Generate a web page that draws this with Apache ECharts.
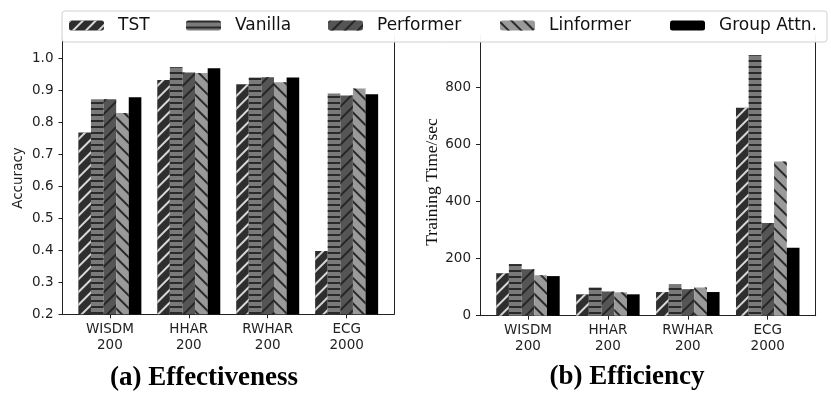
<!DOCTYPE html>
<html><head><meta charset="utf-8">
<script src="https://cdn.jsdelivr.net/npm/echarts@6/dist/echarts.min.js"></script>
<style>html,body{margin:0;padding:0;background:#fff}#c{width:831px;height:394px}</style>
</head><body><div id="c"></div>
<script>
const datasets = ['WISDM', 'HHAR', 'RWHAR', 'ECG'];
const seqLens = ['200', '200', '200', '2000'];
const methods = ['TST', 'Vanilla', 'Performer', 'Linformer', 'Group Attn.'];
const accTST       = [0.768, 0.932, 0.919, 0.398];
const accVanilla   = [0.872, 0.972, 0.940, 0.890];
const accPerformer = [0.872, 0.956, 0.941, 0.884];
const accLinformer = [0.829, 0.954, 0.925, 0.906];
const accGroup     = [0.878, 0.969, 0.940, 0.888];
const timeTST       = [149, 75, 83, 730];
const timeVanilla   = [181, 99, 111, 914];
const timePerformer = [163, 85, 93, 325];
const timeLinformer = [142, 82, 99, 541];
const timeGroup     = [139, 75, 83, 238];
const titleA = '(a) Effectiveness';
const titleB = '(b) Efficiency';
const yNameA = 'Accuracy';
const yNameB = 'Training Time/sec';

const accSeries = [accTST, accVanilla, accPerformer, accLinformer, accGroup];
const timeSeries = [timeTST, timeVanilla, timePerformer, timeLinformer, timeGroup];
const categories = datasets.map((d, i) => d + '\n' + seqLens[i]);

const fills = ['#2e2e2e', '#7a7a7a', '#555555', '#9a9a9a', '#000000'];
const decals = [
  {symbol: 'rect', symbolSize: 1, color: '#d8d8d8', dashArrayX: [1, 0], dashArrayY: [1.2, 6.8], rotation: -Math.PI / 4},
  {symbol: 'rect', symbolSize: 1, color: '#2a2a2a', dashArrayX: [1, 0], dashArrayY: [2, 3.5], rotation: 0},
  {symbol: 'rect', symbolSize: 1, color: '#262626', dashArrayX: [1, 0], dashArrayY: [1.5, 6.3], rotation: -Math.PI / 4},
  {symbol: 'rect', symbolSize: 1, color: '#2a2a2a', dashArrayX: [1, 0], dashArrayY: [1.5, 6.3], rotation: Math.PI / 4},
  null
];

const sans = 'DejaVu Sans';
const serif = 'Liberation Serif';
const ink = '#222';

function frameX(gi) {
  return {type: 'value', gridIndex: gi, min: 0, max: 1, axisLine: {show: true, onZero: false, lineStyle: {color: ink, width: 1}},
    axisTick: {show: false}, axisLabel: {show: false}, splitLine: {show: false}};
}
function barX(gi) {
  return {type: 'category', gridIndex: gi, data: categories, boundaryGap: true,
    axisLine: {show: false}, axisTick: {show: true, alignWithLabel: true, length: 4, lineStyle: {color: ink}},
    axisLabel: {fontFamily: sans, fontSize: 13.5, lineHeight: 16, color: ink, margin: 7}, splitLine: {show: false}};
}
function yLeft(gi, min, max, interval, fmt) {
  return {type: 'value', gridIndex: gi, position: 'left', min: min, max: max, interval: interval,
    axisLine: {show: true, lineStyle: {color: ink, width: 1}}, axisTick: {show: true, length: 4, lineStyle: {color: ink}},
    axisLabel: {fontFamily: sans, fontSize: 13.5, color: ink, margin: 9, showMaxLabel: false, formatter: fmt},
    splitLine: {show: false}};
}
function yRight(gi, min, max) {
  return {type: 'value', gridIndex: gi, position: 'right', min: min, max: max,
    axisLine: {show: true, lineStyle: {color: ink, width: 1}}, axisTick: {show: false}, axisLabel: {show: false}, splitLine: {show: false}};
}
function yHidden(gi, min, max) {
  return {type: 'value', gridIndex: gi, min: min, max: max, show: false, splitLine: {show: false}};
}

const accMin = 0.2, accMax = 1.0728;
const timeMin = 0, timeMax = 984.9;

const series = [];
methods.forEach((m, k) => {
  const style = {color: fills[k]};
  if (decals[k]) style.decal = decals[k];
  series.push({name: m, type: 'bar', xAxisIndex: 1, yAxisIndex: 2, data: accSeries[k], barWidth: 12.6, barGap: '0%', itemStyle: style, clip: true});
});
methods.forEach((m, k) => {
  const style = {color: fills[k]};
  if (decals[k]) style.decal = decals[k];
  series.push({name: m, type: 'bar', xAxisIndex: 3, yAxisIndex: 5, data: timeSeries[k], barWidth: 12.7, barGap: '0%', itemStyle: style, clip: true});
});

const legendLefts = [69, 186, 328, 500, 670];
const legends = methods.map((m, k) => ({
  data: [m], left: legendLefts[k], top: 17, padding: 0, itemWidth: 35, itemHeight: 10,
  textStyle: {fontFamily: sans, fontSize: 17, color: '#111', padding: [0, 0, 0, 9]}, selectedMode: false, z: 10
}));

const option = {
  animation: false,
  backgroundColor: '#fff',
  grid: [
    {left: 62.5, top: 35, width: 331.5, height: 279.3},
    {left: 70.4, top: 35, width: 315.7, height: 279.3},
    {left: 480, top: 35, width: 335.7, height: 280.7},
    {left: 488, top: 35, width: 319.7, height: 280.7}
  ],
  xAxis: [frameX(0), barX(1), frameX(2), barX(3)],
  yAxis: [
    yLeft(0, accMin, accMax, 0.1, v => v.toFixed(1)), yRight(0, accMin, accMax), yHidden(1, accMin, accMax),
    yLeft(2, timeMin, timeMax, 200, v => String(Math.round(v))), yRight(2, timeMin, timeMax), yHidden(3, timeMin, timeMax)
  ],
  legend: legends,
  series: series,
  graphic: [
    {type: 'rect', z: 8, shape: {x: 62, y: 11, width: 765, height: 31, r: 3},
      style: {fill: 'rgba(255,255,255,0.95)', stroke: '#d0d0d0', lineWidth: 1}},
    {type: 'text', z: 8, x: 18, y: 178, rotation: Math.PI / 2,
      style: {text: yNameA, fontFamily: sans, fontSize: 13.5, fill: ink, align: 'center', verticalAlign: 'middle'}},
    {type: 'text', z: 8, x: 432, y: 182, rotation: Math.PI / 2,
      style: {text: yNameB, fontFamily: serif, fontSize: 17.5, fill: '#111', align: 'center', verticalAlign: 'middle'}},
    {type: 'text', z: 8, x: 204, y: 378,
      style: {text: titleA, fontFamily: serif, fontWeight: 'bold', fontSize: 27, fill: '#000', align: 'center', verticalAlign: 'middle'}},
    {type: 'text', z: 8, x: 627, y: 377,
      style: {text: titleB, fontFamily: serif, fontWeight: 'bold', fontSize: 27, fill: '#000', align: 'center', verticalAlign: 'middle'}}
  ]
};
const chart = echarts.init(document.getElementById('c'), null, {renderer: 'canvas'});
chart.setOption(option);
</script>
</body></html>
